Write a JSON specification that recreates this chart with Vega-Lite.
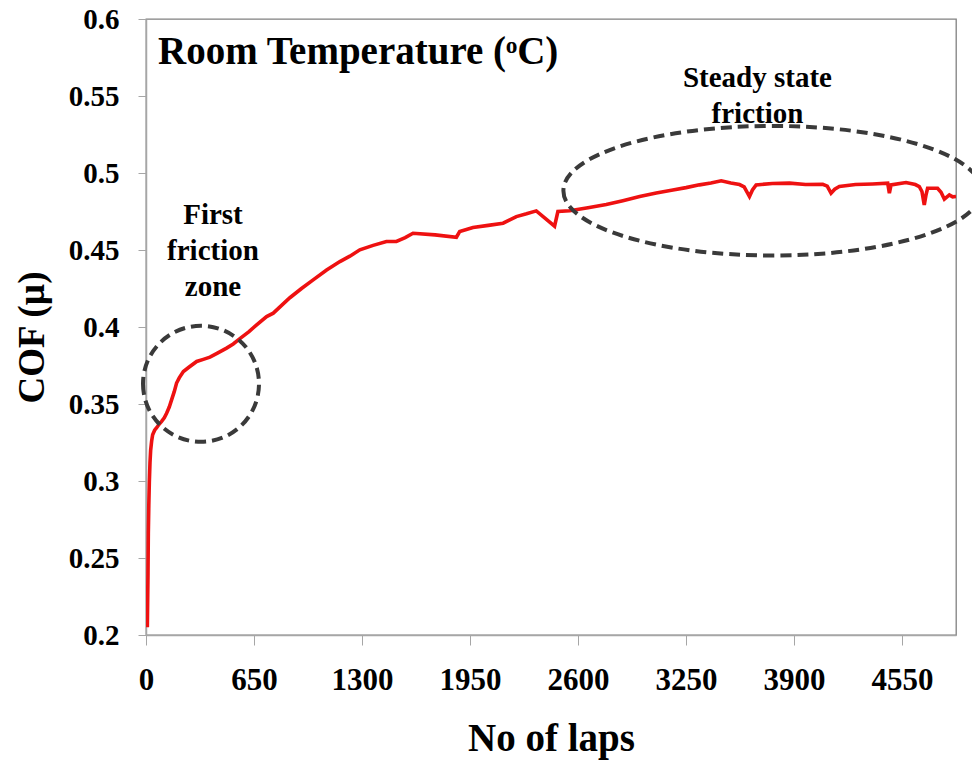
{
  "$schema": "https://vega.github.io/schema/vega-lite/v6.json",
  "autosize": "none",
  "width": 810,
  "height": 616,
  "padding": {"left": 146, "top": 19, "right": 16, "bottom": 128},
  "background": "white",
  "config": {
    "view": {"stroke": "#808080", "strokeWidth": 1.3},
    "font": "Liberation Serif"
  },
  "datasets": {
    "cof": [
      {"laps": 8, "cof": 0.205}, {"laps": 12, "cof": 0.24}, {"laps": 14, "cof": 0.266}, {"laps": 17, "cof": 0.285},
      {"laps": 20, "cof": 0.299}, {"laps": 24, "cof": 0.312}, {"laps": 28, "cof": 0.32}, {"laps": 34, "cof": 0.326},
      {"laps": 40, "cof": 0.33}, {"laps": 52, "cof": 0.333}, {"laps": 64, "cof": 0.3346}, {"laps": 80, "cof": 0.337},
      {"laps": 94, "cof": 0.3387}, {"laps": 110, "cof": 0.341}, {"laps": 124, "cof": 0.344}, {"laps": 140, "cof": 0.348},
      {"laps": 154, "cof": 0.3527}, {"laps": 170, "cof": 0.358}, {"laps": 184, "cof": 0.3636}, {"laps": 200, "cof": 0.367},
      {"laps": 225, "cof": 0.3711}, {"laps": 260, "cof": 0.374}, {"laps": 305, "cof": 0.3776}, {"laps": 345, "cof": 0.379},
      {"laps": 385, "cof": 0.3804}, {"laps": 430, "cof": 0.383}, {"laps": 485, "cof": 0.3863}, {"laps": 525, "cof": 0.389},
      {"laps": 565, "cof": 0.3925}, {"laps": 620, "cof": 0.397}, {"laps": 666, "cof": 0.4014}, {"laps": 726, "cof": 0.4068},
      {"laps": 766, "cof": 0.409}, {"laps": 816, "cof": 0.414}, {"laps": 866, "cof": 0.419}, {"laps": 936, "cof": 0.425},
      {"laps": 1006, "cof": 0.4306}, {"laps": 1087, "cof": 0.437}, {"laps": 1167, "cof": 0.4425}, {"laps": 1227, "cof": 0.446},
      {"laps": 1287, "cof": 0.4501}, {"laps": 1367, "cof": 0.453}, {"laps": 1447, "cof": 0.4555}, {"laps": 1507, "cof": 0.4556},
      {"laps": 1560, "cof": 0.458}, {"laps": 1607, "cof": 0.4609}, {"laps": 1740, "cof": 0.4598}, {"laps": 1868, "cof": 0.4583},
      {"laps": 1888, "cof": 0.462}, {"laps": 1968, "cof": 0.4646}, {"laps": 2060, "cof": 0.466}, {"laps": 2149, "cof": 0.4674},
      {"laps": 2229, "cof": 0.4717}, {"laps": 2290, "cof": 0.4735}, {"laps": 2349, "cof": 0.4754}, {"laps": 2459, "cof": 0.4655},
      {"laps": 2479, "cof": 0.475}, {"laps": 2550, "cof": 0.4755}, {"laps": 2660, "cof": 0.4775}, {"laps": 2770, "cof": 0.4795},
      {"laps": 2870, "cof": 0.482}, {"laps": 2971, "cof": 0.4847}, {"laps": 3071, "cof": 0.487}, {"laps": 3171, "cof": 0.489},
      {"laps": 3250, "cof": 0.4905}, {"laps": 3331, "cof": 0.4923}, {"laps": 3400, "cof": 0.4935}, {"laps": 3462, "cof": 0.4949},
      {"laps": 3520, "cof": 0.4935}, {"laps": 3572, "cof": 0.4925}, {"laps": 3600, "cof": 0.491}, {"laps": 3632, "cof": 0.4847},
      {"laps": 3650, "cof": 0.489}, {"laps": 3672, "cof": 0.4923}, {"laps": 3770, "cof": 0.4932}, {"laps": 3873, "cof": 0.4934},
      {"laps": 3970, "cof": 0.4925}, {"laps": 4073, "cof": 0.4927}, {"laps": 4100, "cof": 0.4915}, {"laps": 4123, "cof": 0.4869},
      {"laps": 4145, "cof": 0.4895}, {"laps": 4173, "cof": 0.4912}, {"laps": 4270, "cof": 0.4925}, {"laps": 4373, "cof": 0.4929},
      {"laps": 4464, "cof": 0.4934}, {"laps": 4474, "cof": 0.4869}, {"laps": 4484, "cof": 0.4923}, {"laps": 4574, "cof": 0.4938},
      {"laps": 4630, "cof": 0.4925}, {"laps": 4654, "cof": 0.4912}, {"laps": 4670, "cof": 0.488}, {"laps": 4684, "cof": 0.4793},
      {"laps": 4695, "cof": 0.486}, {"laps": 4704, "cof": 0.4901}, {"laps": 4764, "cof": 0.4901}, {"laps": 4785, "cof": 0.4875},
      {"laps": 4805, "cof": 0.483}, {"laps": 4835, "cof": 0.4858}, {"laps": 4855, "cof": 0.4845}, {"laps": 4875, "cof": 0.4847}
    ],
    "zones": [
      {"zone": "first", "laps": 331, "cof": 0.3631},
      {"zone": "steady", "laps": 3770, "cof": 0.4885}
    ],
    "labels": [
      {"label": "Room Temperature (ᵒC)", "laps": 72, "cof": 0.5786, "kind": "title"},
      {"label": "First\nfriction\nzone", "laps": 403, "cof": 0.4727, "kind": "note"},
      {"label": "Steady state\nfriction", "laps": 3680, "cof": 0.5617, "kind": "note"}
    ]
  },
  "layer": [
    {
      "data": {"name": "cof"},
      "mark": {"type": "line", "color": "#ee1111", "strokeWidth": 3.6, "clip": true},
      "encoding": {
        "x": {
          "field": "laps", "type": "quantitative",
          "scale": {"domain": [0, 4875], "nice": false, "zero": false},
          "axis": {
            "values": [0, 650, 1300, 1950, 2600, 3250, 3900, 4550],
            "format": "d",
            "grid": false,
            "domainColor": "#a6a6a6", "domainWidth": 1.5,
            "tickColor": "#a6a6a6", "tickSize": 10, "tickWidth": 1,
            "labelFont": "Liberation Serif", "labelFontWeight": "bold", "labelFontSize": 31, "labelColor": "black",
            "labelPadding": 20, "labelFlush": false,
            "title": "No of laps",
            "titleFont": "Liberation Serif", "titleFontWeight": "bold", "titleFontSize": 39, "titleColor": "black",
            "titleBaseline": "alphabetic", "titleY": 115
          }
        },
        "y": {
          "field": "cof", "type": "quantitative",
          "scale": {"domain": [0.2, 0.6], "nice": false, "zero": false},
          "axis": {
            "values": [0.2, 0.25, 0.3, 0.35, 0.4, 0.45, 0.5, 0.55, 0.6],
            "format": "~g",
            "grid": false,
            "domainColor": "#a6a6a6", "domainWidth": 1.5,
            "tickColor": "#a6a6a6", "tickSize": 8, "tickWidth": 1,
            "labelFont": "Liberation Serif", "labelFontWeight": "bold", "labelFontSize": 29, "labelColor": "black",
            "labelPadding": 19, "labelFlush": false,
            "title": "COF (µ)",
            "titleFont": "Liberation Serif", "titleFontWeight": "bold", "titleFontSize": 37, "titleColor": "black",
            "titleBaseline": "middle", "titleX": -114, "titleY": 318, "titleAngle": -90, "titleAlign": "center"
          }
        }
      }
    },
    {
      "data": {"name": "zones"},
      "transform": [{"filter": "datum.zone === 'first'"}],
      "mark": {
        "type": "point", "filled": false, "shape": "M -1 0 A 1 1 0 1 0 1 0 A 1 1 0 1 0 -1 0",
        "size": 13456, "stroke": "#3a3a3a", "strokeWidth": 4, "strokeDash": [11, 6], "opacity": 1
      },
      "encoding": {
        "x": {"field": "laps", "type": "quantitative"},
        "y": {"field": "cof", "type": "quantitative"}
      }
    },
    {
      "data": {"name": "zones"},
      "transform": [{"filter": "datum.zone === 'steady'"}],
      "mark": {
        "type": "point", "filled": false, "shape": "M -1 0 A 1 0.31 0 1 0 1 0 A 1 0.31 0 1 0 -1 0",
        "size": 174724, "stroke": "#3a3a3a", "strokeWidth": 4, "strokeDash": [11, 6], "opacity": 1
      },
      "encoding": {
        "x": {"field": "laps", "type": "quantitative"},
        "y": {"field": "cof", "type": "quantitative"}
      }
    },
    {
      "data": {"name": "labels"},
      "transform": [{"filter": "datum.kind === 'title'"}],
      "mark": {"type": "text", "align": "left", "baseline": "middle", "font": "Liberation Serif", "fontWeight": "bold", "fontSize": 39, "color": "black"},
      "encoding": {
        "x": {"field": "laps", "type": "quantitative"},
        "y": {"field": "cof", "type": "quantitative"},
        "text": {"field": "label"}
      }
    },
    {
      "data": {"name": "labels"},
      "transform": [{"filter": "datum.kind === 'note'"}],
      "mark": {"type": "text", "align": "center", "baseline": "middle", "lineBreak": "\n", "lineHeight": 36, "font": "Liberation Serif", "fontWeight": "bold", "fontSize": 29, "color": "black"},
      "encoding": {
        "x": {"field": "laps", "type": "quantitative"},
        "y": {"field": "cof", "type": "quantitative"},
        "text": {"field": "label"}
      }
    }
  ]
}
